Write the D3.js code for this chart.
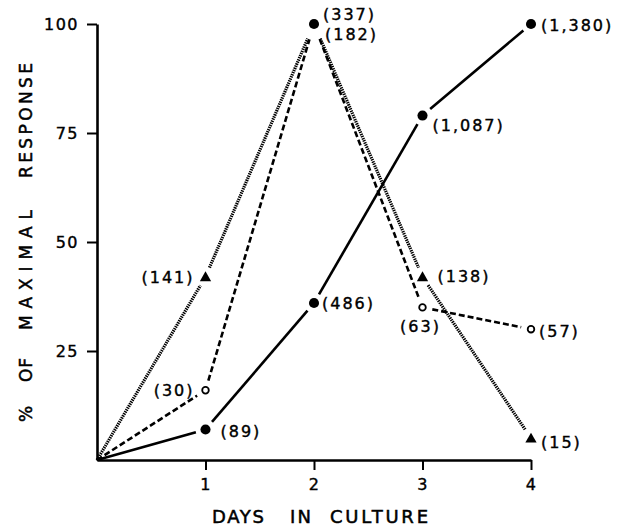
<!DOCTYPE html>
<html>
<head>
<meta charset="utf-8">
<script src="https://cdn.jsdelivr.net/npm/d3@7"></script>
<style>
  body { margin: 0; background: #fff; }
  text { font-family: "DejaVu Sans", sans-serif; fill: #000; }
</style>
</head>
<body>
<svg id="chart" width="619" height="529"></svg>
<script>
// days in culture
var days = [0, 1, 2, 3, 4]

// % of maximal response
var solidPct = [0, 7, 36, 79, 100]
var openPct = [0, 16, 100, 35, 30]
var triPct = [0, 42, 100, 42, 5]

// raw counts printed next to the points
var solidCounts = [null, "89", "486", "1,087", "1,380"]
var openCounts = [null, "30", "182", "63", "57"]
var triCounts = [null, "141", "337", "138", "15"]

var yTicks = [25, 50, 75, 100]
var xTicks = [1, 2, 3, 4]

var svg = d3.select("#chart")

var x = d3.scaleLinear().domain([0, 4]).range([97, 531])
var y = d3.scaleLinear().domain([0, 100]).range([460, 24])

// label placement relative to each marker: [dx, dy, anchor]
var series = [
  {
    name: "solid", values: solidPct, counts: solidCounts, marker: "dot",
    dash: null, width: 2.6,
    labels: [null, [15, 2, "start"], [8, 0, "start"], [10, 10, "start"], [10, 1, "start"]]
  },
  {
    name: "open", values: openPct, counts: openCounts, marker: "ring",
    dash: "6,3", width: 2.6,
    labels: [null, [-11, 0, "end"], [11, 10, "start"], [-2, 19, "middle"], [8, 2, "start"]]
  },
  {
    name: "tri", values: triPct, counts: triCounts, marker: "tri",
    dash: "1.4,0.9", width: 3.2,
    labels: [null, [-11, 0, "end"], [9, -10, "start"], [15, -1, "start"], [10, 4, "start"]]
  }
]

// axes
var yAxis = d3.axisLeft(y).tickValues(yTicks).tickSize(10).tickSizeOuter(0).tickPadding(8)
var xAxis = d3.axisBottom(x).tickValues(xTicks).tickSize(10).tickSizeOuter(0).tickPadding(9)
  .tickFormat(d3.format("d"))

var gy = svg.append("g").attr("transform", "translate(" + x(0) + ",0)").call(yAxis)
var gx = svg.append("g").attr("transform", "translate(0," + y(0) + ")").call(xAxis)

gy.select(".domain").attr("stroke-width", 2.6)
gx.select(".domain").attr("stroke-width", 2.6)
gy.selectAll(".tick line").attr("stroke-width", 2)
gx.selectAll(".tick line").attr("stroke-width", 2)
svg.selectAll(".tick text")
  .style("font-family", "DejaVu Sans")
  .style("font-size", "16px")
  .style("letter-spacing", "1.5px")
  .attr("stroke", "#000").attr("stroke-width", 0.4)

// lines, drawn segment by segment with a gap at each marker
function gapFor(v, i) {
  if (i === 0) return 0
  if (v === 100 && i === 2) return 16
  return 10
}

series.forEach(function (s) {
  var segs = []
  for (var i = 0; i < days.length - 1; i++) {
    var x1 = x(days[i]), y1 = y(s.values[i])
    var x2 = x(days[i + 1]), y2 = y(s.values[i + 1])
    var len = Math.hypot(x2 - x1, y2 - y1)
    var g1 = gapFor(s.values[i], i), g2 = gapFor(s.values[i + 1], i + 1)
    segs.push({
      x1: x1 + (x2 - x1) * g1 / len, y1: y1 + (y2 - y1) * g1 / len,
      x2: x2 - (x2 - x1) * g2 / len, y2: y2 - (y2 - y1) * g2 / len
    })
  }
  svg.append("g").selectAll("line")
    .data(segs)
    .enter()
    .append("line")
    .attr("x1", function (d) { return d.x1 })
    .attr("y1", function (d) { return d.y1 })
    .attr("x2", function (d) { return d.x2 })
    .attr("y2", function (d) { return d.y2 })
    .attr("stroke", "#000")
    .attr("stroke-width", s.width)
    .attr("stroke-dasharray", s.dash)
})

// markers
var dotSym = d3.symbol().type(d3.symbolCircle).size(80)
var triSym = d3.symbol().type(d3.symbolTriangle).size(55)

series.forEach(function (s) {
  var pts = days.map(function (d, i) { return { i: i, day: d, v: s.values[i] } })
    .filter(function (p) { return p.i > 0 })
  var g = svg.append("g")
  pts.forEach(function (p) {
    var cx = x(p.day), cy = y(p.v)
    // the shared peak at day 2 shows as one filled dot
    if (s.name !== "solid" && p.i === 2) {
      if (s.name === "tri") {
        g.append("path").attr("d", dotSym())
          .attr("transform", "translate(" + cx + "," + cy + ")")
      }
      return
    }
    if (s.marker === "dot") {
      g.append("path").attr("d", dotSym())
        .attr("transform", "translate(" + cx + "," + cy + ")")
    } else if (s.marker === "ring") {
      g.append("circle").attr("cx", cx).attr("cy", cy).attr("r", 3.3)
        .attr("fill", "#fff").attr("stroke", "#000").attr("stroke-width", 1.8)
    } else {
      g.append("path").attr("d", triSym())
        .attr("transform", "translate(" + cx + "," + (cy + 1) + ")")
    }
  })
})

// count labels
series.forEach(function (s) {
  s.counts.forEach(function (c, i) {
    if (c === null) return
    var off = s.labels[i]
    svg.append("text")
      .attr("x", x(days[i]) + off[0])
      .attr("y", y(s.values[i]) + off[1])
      .attr("dy", "0.36em")
      .attr("text-anchor", off[2])
      .style("font-size", "16px")
      .style("letter-spacing", "2px")
      .attr("stroke", "#000").attr("stroke-width", 0.4)
      .text("(" + c + ")")
  })
})

// axis titles, word by word to keep the wide word gaps
var xTitle = [["DAYS", 212, 52], ["IN", 290, 21], ["CULTURE", 330, 98]]
xTitle.forEach(function (w) {
  svg.append("text")
    .attr("x", w[1]).attr("y", 523)
    .attr("textLength", w[2]).attr("lengthAdjust", "spacing")
    .style("font-size", "18px")
    .attr("stroke", "#000").attr("stroke-width", 0.5)
    .text(w[0])
})

var yTitle = [["%", 422, 30], ["OF", 382, 24], ["MAXIMAL", 330, 120], ["RESPONSE", 178, 115]]
yTitle.forEach(function (w) {
  svg.append("text")
    .attr("transform", "translate(32," + w[1] + ") rotate(-90)")
    .attr("textLength", w[2]).attr("lengthAdjust", "spacing")
    .style("font-size", "17px")
    .attr("stroke", "#000").attr("stroke-width", 0.5)
    .text(w[0])
})
</script>
</body>
</html>
